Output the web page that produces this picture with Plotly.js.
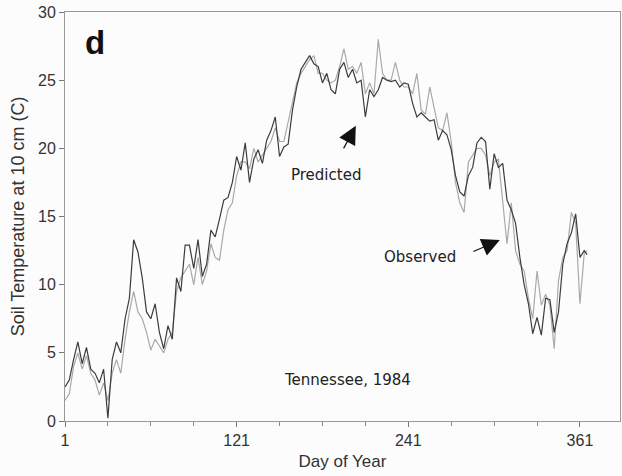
<!DOCTYPE html>
<html>
<head>
<meta charset="utf-8">
<script src="https://cdn.plot.ly/plotly-3.0.1.min.js"></script>
<style>html,body{margin:0;padding:0;background:#fcfcfc;}#chart{width:622px;height:476px;}</style>
</head>
<body>
<div id="chart"></div>
<script>
const days = [1,4,7,10,13,16,19,22,25,28,31,34,37,40,43,46,49,52,55,58,61,64,67,70,73,76,79,82,85,88,91,94,97,100,103,106,109,112,115,118,121,124,127,130,133,136,139,142,145,148,151,154,157,160,163,166,169,172,175,178,181,184,187,190,193,196,199,202,205,208,211,214,217,220,223,226,229,232,235,238,241,244,247,250,253,256,259,262,265,268,271,274,277,280,283,286,289,292,295,298,301,304,307,310,313,316,319,322,325,328,331,334,337,340,343,346,349,352,355,358,361,364,366];

const observed = [2.5,3.0,4.5,5.8,4.2,5.4,3.8,3.5,2.8,3.8,0.2,4.5,5.8,5.0,7.5,9.0,13.3,12.4,10.5,8.0,7.5,8.6,6.5,5.3,7.0,6.0,10.5,9.5,12.9,12.9,11.2,13.3,10.6,11.5,14.0,13.5,14.8,16.2,16.4,17.5,19.4,18.4,20.4,17.5,19.2,19.9,18.9,20.6,21.3,22.3,19.4,20.1,20.3,22.8,24.5,25.8,26.3,26.8,26.2,26.0,24.8,25.5,24.3,24.0,25.8,26.3,25.2,25.8,24.8,25.0,22.3,24.3,23.8,24.3,25.2,25.0,24.9,25.0,24.5,24.8,24.7,23.3,22.3,22.6,22.3,22.0,22.1,20.6,21.3,21.0,19.9,18.0,16.8,16.5,18.0,18.6,20.4,20.8,20.5,17.0,19.6,18.6,18.9,16.2,15.5,14.5,12.0,10.0,8.6,6.4,7.6,6.3,9.0,8.9,6.5,8.0,11.5,13.0,13.8,15.2,12.0,12.5,12.2];

const predicted = [1.5,2.0,4.0,5.0,3.8,4.8,3.5,3.0,1.9,2.8,1.5,3.5,4.5,3.5,6.0,8.0,9.5,8.0,7.5,6.5,5.2,6.0,5.5,5.0,6.0,6.5,9.5,10.5,11.0,11.5,10.0,12.0,10.0,11.0,13.0,12.0,11.8,14.0,15.5,16.0,18.0,19.0,19.0,18.5,20.0,19.0,19.5,20.0,20.5,21.5,20.5,20.5,22.0,23.5,24.8,25.5,26.0,26.5,26.8,25.5,25.5,25.0,24.8,25.0,26.0,27.3,25.8,26.0,25.5,26.3,24.0,24.8,24.0,28.0,25.5,25.0,25.0,26.3,25.0,24.5,24.5,24.0,25.5,22.8,22.5,24.5,23.0,21.5,21.3,22.6,20.5,17.5,16.0,15.3,19.0,19.5,20.0,20.0,19.5,18.0,19.0,19.2,16.0,13.0,16.0,12.5,11.5,11.0,9.0,7.5,11.0,8.5,9.3,8.5,5.3,10.3,12.0,12.5,15.3,14.5,8.6,12.3,12.5];

const xTickVals = [1,121,241,361];
const yTickVals = [0,5,10,15,20,25,30];

const traces = [
  {x: days, y: predicted, type: 'scatter', mode: 'lines', name: 'Predicted',
   line: {color: '#a9a9a9', width: 1.2}, hoverinfo: 'skip'},
  {x: days, y: observed, type: 'scatter', mode: 'lines', name: 'Observed',
   line: {color: '#3c3c3c', width: 1.2}, hoverinfo: 'skip'}
];

const axFont = {family: 'Liberation Sans, Arial, sans-serif', size: 16, color: '#333'};
const annFont = {family: 'DejaVu Sans, sans-serif', size: 15, color: '#222'};

const layout = {
  width: 622, height: 476,
  margin: {l: 65, r: 2, t: 12, b: 55},
  paper_bgcolor: '#fcfcfc', plot_bgcolor: '#fcfcfc',
  showlegend: false,
  xaxis: {
    range: [1, 389], tickvals: xTickVals, ticktext: xTickVals.map(String),
    ticks: 'outside', ticklen: 5, tickcolor: '#777', tickwidth: 1,
    minor: {tick0: 1, dtick: 30, ticks: 'outside', ticklen: 4, tickcolor: '#888'},
    showgrid: false, zeroline: false,
    showline: true, linecolor: '#999', linewidth: 1, mirror: true,
    tickfont: axFont,
    title: {text: 'Day of Year', font: {family: 'Liberation Sans, Arial, sans-serif', size: 17, color: '#333'}, standoff: 6}
  },
  yaxis: {
    range: [0, 30], tickvals: yTickVals,
    ticks: 'outside', ticklen: 5, tickcolor: '#777', tickwidth: 1,
    showgrid: false, zeroline: false,
    showline: true, linecolor: '#999', linewidth: 1, mirror: true,
    tickfont: axFont,
    title: {text: 'Soil Temperature at 10 cm (C)', font: {family: 'Liberation Sans, Arial, sans-serif', size: 18, color: '#333'}, standoff: 8}
  },
  annotations: [
    {x: 22.3, y: 27.76, xref: 'x', yref: 'y', text: '<b>d</b>', showarrow: false,
     font: {family: 'Liberation Sans, Arial, sans-serif', size: 33, color: '#111'}},
    {x: 183.3, y: 18.05, xref: 'x', yref: 'y', text: 'Predicted', showarrow: false, font: annFont},
    {x: 249, y: 12.0, xref: 'x', yref: 'y', text: 'Observed', showarrow: false, font: annFont},
    {x: 198.7, y: 2.98, xref: 'x', yref: 'y', text: 'Tennessee, 1984', showarrow: false, font: annFont},
    {x: 204.3, y: 21.65, xref: 'x', yref: 'y', text: '', showarrow: true,
     ax: -13, ay: 24, arrowhead: 2, arrowsize: 3, arrowwidth: 1.2, arrowcolor: '#111', standoff: 0},
    {x: 305, y: 13.27, xref: 'x', yref: 'y', text: '', showarrow: true,
     ax: -28, ay: 12, arrowhead: 2, arrowsize: 3, arrowwidth: 1.2, arrowcolor: '#111', standoff: 0}
  ]
};

Plotly.newPlot('chart', traces, layout, {displayModeBar: false, staticPlot: true});
</script>
</body>
</html>
